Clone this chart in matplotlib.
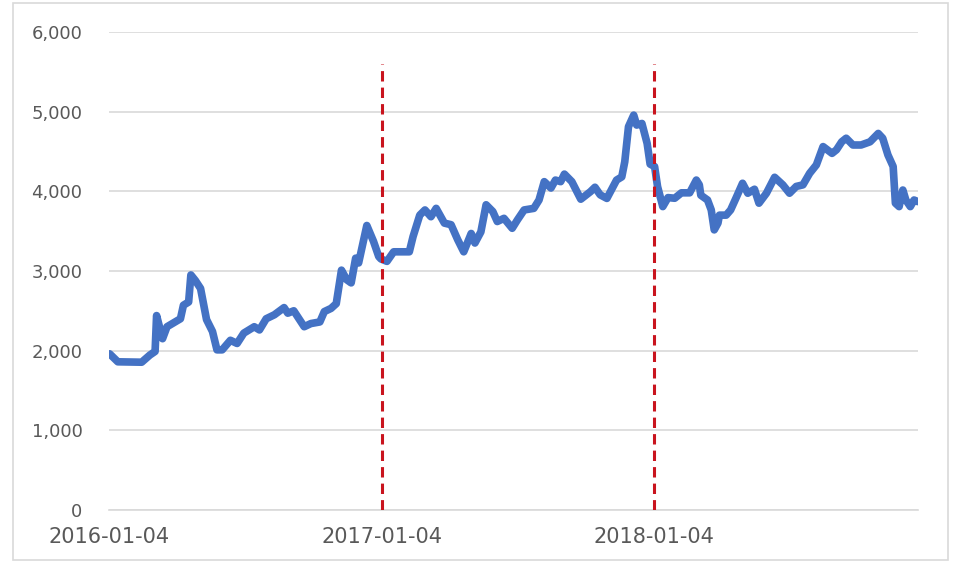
import matplotlib
matplotlib.use("Agg")
import matplotlib.pyplot as plt
import numpy as np
import pandas as pd
from matplotlib.patches import Rectangle

# series
dates = [
    "2016-01-05", "2016-01-16", "2016-02-17", "2016-02-28", "2016-03-06", "2016-03-08",
    "2016-03-16", "2016-03-22", "2016-04-09", "2016-04-13", "2016-04-20", "2016-04-23",
    "2016-04-29", "2016-05-06", "2016-05-14", "2016-05-22", "2016-05-28", "2016-06-04",
    "2016-06-15", "2016-06-24", "2016-07-03", "2016-07-17", "2016-07-24", "2016-08-02",
    "2016-08-13", "2016-08-26", "2016-08-31", "2016-09-08", "2016-09-22", "2016-10-01",
    "2016-10-13", "2016-10-19", "2016-10-28", "2016-11-04", "2016-11-11", "2016-11-18",
    "2016-11-24", "2016-11-30", "2016-12-04", "2016-12-15", "2016-12-24", "2016-12-31",
    "2017-01-03", "2017-01-11", "2017-01-20", "2017-02-10", "2017-02-15", "2017-02-24",
    "2017-03-03", "2017-03-11", "2017-03-18", "2017-03-29", "2017-04-07", "2017-04-16",
    "2017-04-24", "2017-05-04", "2017-05-09", "2017-05-17", "2017-05-24", "2017-06-02",
    "2017-06-08", "2017-06-17", "2017-06-28", "2017-07-05", "2017-07-14", "2017-07-27",
    "2017-08-03", "2017-08-10", "2017-08-19", "2017-08-25", "2017-09-01", "2017-09-06",
    "2017-09-16", "2017-09-28", "2017-10-11", "2017-10-17", "2017-10-24", "2017-11-02",
    "2017-11-15", "2017-11-22", "2017-11-26", "2017-12-01", "2017-12-08", "2017-12-12",
    "2017-12-19", "2017-12-26", "2017-12-30",
    "2018-01-05", "2018-01-09", "2018-01-16", "2018-01-23", "2018-02-01", "2018-02-10",
    "2018-02-21", "2018-03-02", "2018-03-06", "2018-03-08", "2018-03-17", "2018-03-22",
    "2018-03-26", "2018-03-31", "2018-04-02", "2018-04-11", "2018-04-17", "2018-04-24",
    "2018-05-03", "2018-05-10", "2018-05-19", "2018-05-25", "2018-06-04", "2018-06-15",
    "2018-06-26", "2018-07-05", "2018-07-14", "2018-07-23", "2018-08-01", "2018-08-10",
    "2018-08-19", "2018-08-31", "2018-09-06", "2018-09-13", "2018-09-19", "2018-09-28",
    "2018-10-09", "2018-10-21", "2018-11-01", "2018-11-07", "2018-11-14", "2018-11-21",
    "2018-11-24", "2018-11-29", "2018-12-04", "2018-12-08", "2018-12-14", "2018-12-19",
    "2018-12-24",
]
values = [
    1960, 1860, 1855, 1945, 1990, 2440,
    2150, 2300, 2400, 2570, 2610, 2950,
    2880, 2780, 2390, 2240, 2010, 2010,
    2130, 2090, 2220, 2300, 2260, 2400,
    2450, 2540, 2470, 2500, 2300, 2340,
    2360, 2490, 2530, 2590, 3010, 2890,
    2850, 3160, 3100, 3570, 3370, 3180,
    3150, 3120, 3240, 3240, 3430, 3700,
    3765, 3680, 3785, 3600, 3580, 3390,
    3240, 3470, 3350, 3490, 3830, 3745,
    3620, 3660, 3535, 3640, 3765, 3785,
    3890, 4120, 4040, 4140, 4120, 4215,
    4120, 3900, 3995, 4050, 3955, 3910,
    4140, 4180, 4370, 4810, 4955, 4830,
    4850, 4600, 4340,
    4310, 4058, 3807, 3920, 3912, 3980,
    3980, 4140, 4080, 3950, 3890, 3765,
    3515, 3600, 3700, 3700, 3765, 3910,
    4100, 3975, 4025, 3850, 3975, 4175,
    4080, 3975, 4060, 4080, 4225, 4330,
    4560, 4475, 4520, 4620, 4665, 4580,
    4580, 4620, 4725, 4665, 4455, 4310,
    3850, 3807, 4015, 3890, 3807, 3890,
    3870,
]
tick_labels = ["2016-01-04", "2017-01-04", "2018-01-04"]
marker_dates = ["2017-01-04", "2018-01-04"]
marker_top = 5600

x = pd.to_datetime(dates)
ticks = pd.to_datetime(tick_labels)

fig = plt.figure(figsize=(9.55, 5.68), dpi=100)
ax = fig.add_axes([0.114, 0.102, 0.847, 0.842])

# outer border of the chart area
fig.patches.append(Rectangle((0.014, 0.014), 0.979, 0.98, transform=fig.transFigure,
                             fill=False, edgecolor="#D9D9D9", linewidth=1.2))

ax.plot(x, values, color="#4472C4", linewidth=5.5, solid_joinstyle="round",
        solid_capstyle="round", zorder=3)

for d in marker_dates:
    ax.plot([pd.Timestamp(d), pd.Timestamp(d)], [0, marker_top], color="#C9141E",
            linewidth=2.2, linestyle=(0, (3.4, 2)), zorder=4)

ax.set_ylim(0, 6000)
ax.set_yticks(np.arange(0, 6001, 1000))
ax.yaxis.set_major_formatter(matplotlib.ticker.FuncFormatter(lambda v, p: f"{int(v):,}"))
ax.set_xlim(pd.Timestamp("2016-01-04"), pd.Timestamp("2018-12-24"))
ax.set_xticks(ticks)
ax.set_xticklabels(tick_labels)

ax.grid(axis="y", color="#D9D9D9", linewidth=1.2)
ax.set_axisbelow(True)
for s in ["top", "right", "left"]:
    ax.spines[s].set_visible(False)
ax.spines["bottom"].set_color("#D9D9D9")
ax.spines["bottom"].set_linewidth(1.2)

ax.tick_params(axis="y", length=0, pad=19, labelsize=13, labelcolor="#595959")
ax.tick_params(axis="x", length=0, pad=12, labelsize=15, labelcolor="#595959")

fig.savefig("out.png", dpi=100)
